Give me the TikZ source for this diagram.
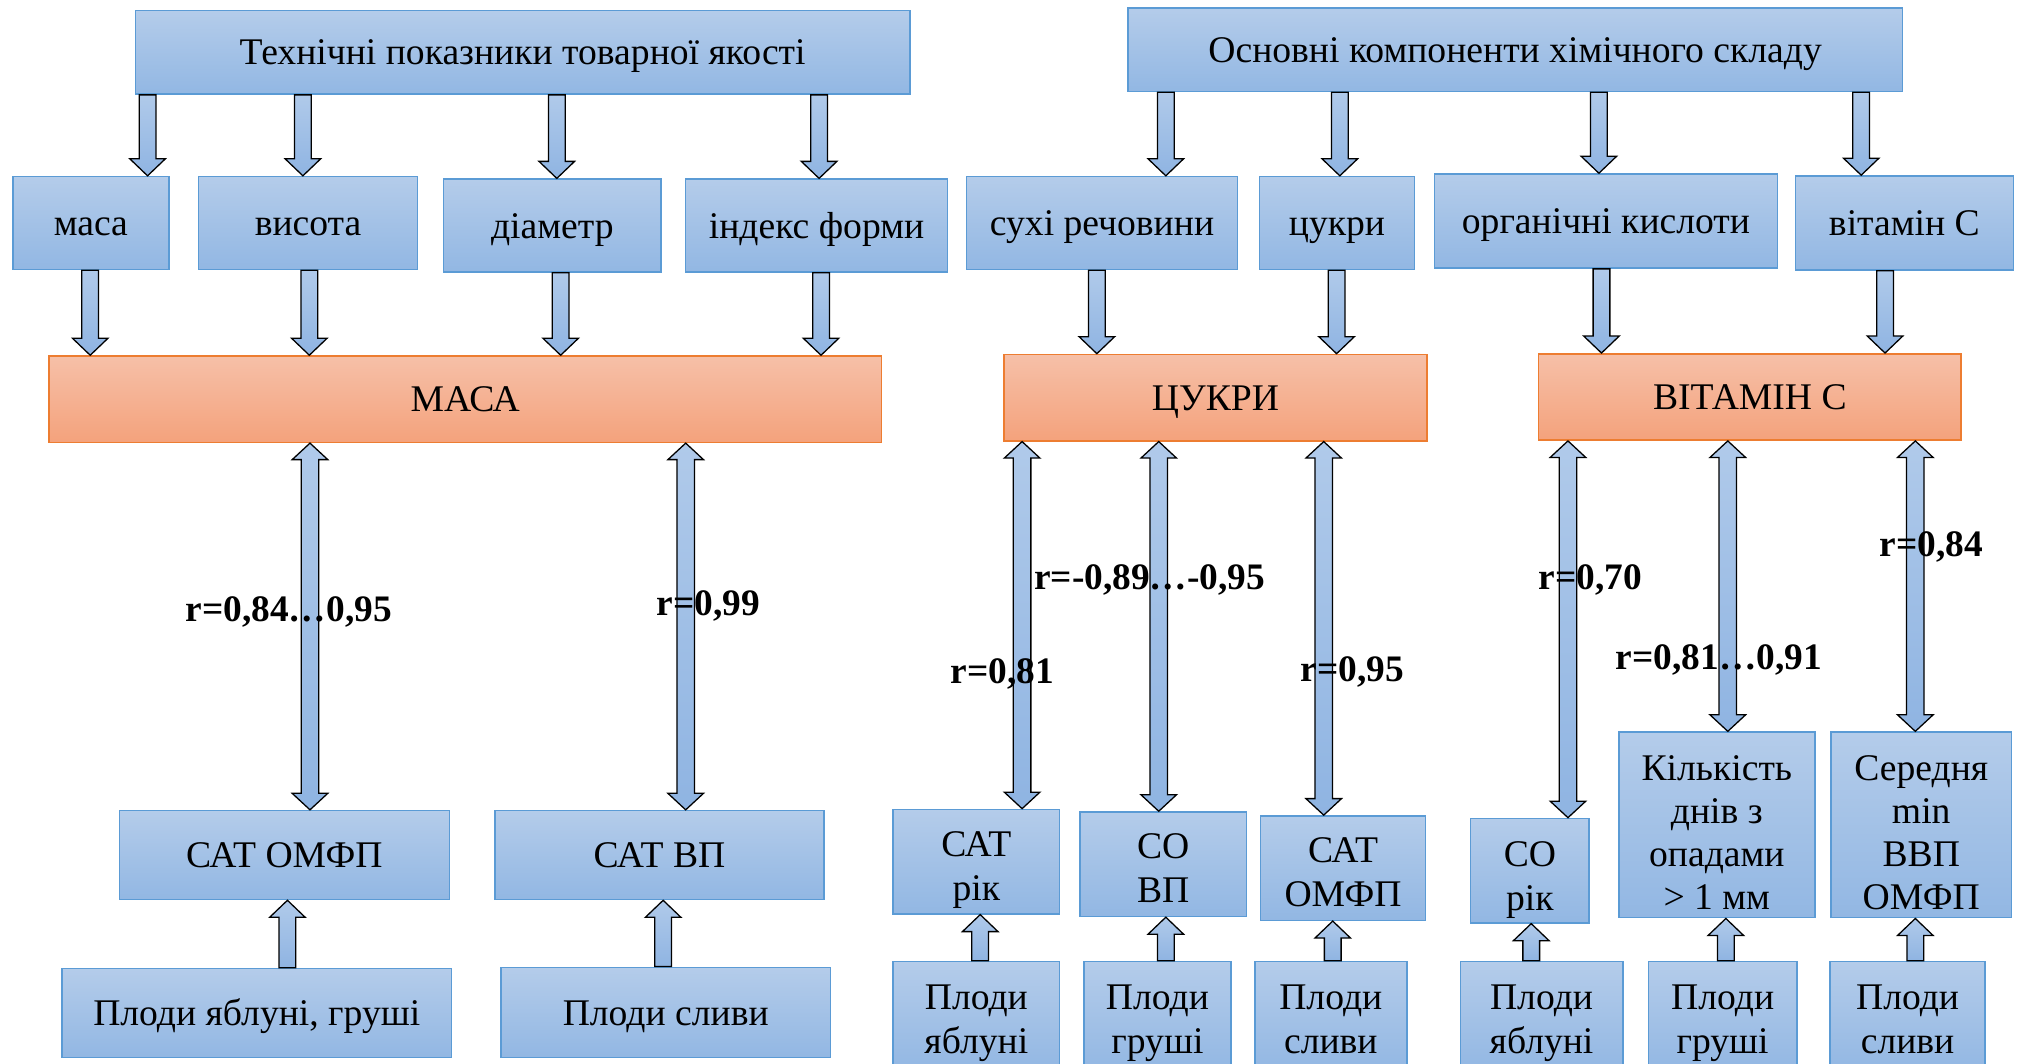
\documentclass[tikz,border=0pt]{standalone}
\usepackage{fontspec}
\setmainfont{Liberation Serif}
\usetikzlibrary{calc}
\definecolor{bxtop}{RGB}{180,204,234}
\definecolor{bxbot}{RGB}{146,183,227}
\definecolor{bxline}{RGB}{91,155,213}
\definecolor{ortop}{RGB}{246,192,168}
\definecolor{orbot}{RGB}{244,162,124}
\definecolor{orline}{RGB}{237,125,49}
\definecolor{artop}{RGB}{176,202,234}
\definecolor{arbot}{RGB}{143,180,226}
\newcommand\wstrut{\rule[-0.216em]{0pt}{1.107em}}
\newcommand\topx[1]{\rule{0pt}{\dimexpr 0.891em+#1\relax}}
\tikzset{
 bbox/.style={draw=bxline, line width=0.6pt, top color=bxtop, bottom color=bxbot, align=center, inner sep=0pt,
   font=\fontsize{14.6}{17}\selectfont, execute at begin node=\wstrut, execute at end node=\wstrut},
 obox/.style={bbox, draw=orline, top color=ortop, bottom color=orbot},
 rlabel/.style={font=\fontsize{14.5}{17}\selectfont\bfseries, inner sep=0pt},
 sarrow/.style={draw=black, line width=0.5pt, top color=artop, bottom color=arbot,
   to path={let \p1=(\tikztostart), \p2=(\tikztotarget), \n1={ifthenelse(\y2>\y1,1,-1)} in
     ({\x1-3.25pt},\y1) -- ({\x1-3.25pt},{\y2-(\n1)*6.6pt}) -- ({\x1-6.9pt},{\y2-(\n1)*6.6pt}) -- (\x1,\y2)
     -- ({\x1+6.9pt},{\y2-(\n1)*6.6pt}) -- ({\x1+3.25pt},{\y2-(\n1)*6.6pt}) -- ({\x1+3.25pt},\y1) -- cycle}},
 darrow/.style={draw=black, line width=0.5pt, top color=artop, bottom color=arbot,
   to path={let \p1=(\tikztostart), \p2=(\tikztotarget), \n1={ifthenelse(\y2>\y1,1,-1)} in
     (\x1,\y1) -- ({\x1+6.9pt},{\y1+(\n1)*6.4pt}) -- ({\x1+3.4pt},{\y1+(\n1)*6.4pt}) -- ({\x1+3.4pt},{\y2-(\n1)*6.4pt})
     -- ({\x1+6.9pt},{\y2-(\n1)*6.4pt}) -- (\x1,\y2) -- ({\x1-6.9pt},{\y2-(\n1)*6.4pt}) -- ({\x1-3.4pt},{\y2-(\n1)*6.4pt})
     -- ({\x1-3.4pt},{\y1+(\n1)*6.4pt}) -- ({\x1-6.9pt},{\y1+(\n1)*6.4pt}) -- cycle}}
}
\begin{document}
\begin{tikzpicture}[x=0.5pt,y=-0.5pt]
\useasboundingbox (0,0) rectangle (1568,825);
\clip (0,0) rectangle (1568,825);
% top boxes
\node[bbox, minimum width=300.5pt, minimum height=32.5pt] (t1) at (405.5,40.5) {Технічні показники товарної якості};
\node[bbox, minimum width=300.5pt, minimum height=32.5pt] (t2) at (1175.5,38.5) {Основні компоненти хімічного складу};
% row 2
\node[bbox, minimum width=60.5pt, minimum height=36pt] (a1) at (70.5,173) {маса};
\node[bbox, minimum width=85pt, minimum height=36pt] (a2) at (239,173) {висота};
\node[bbox, minimum width=84.5pt, minimum height=36pt] (a3) at (428.5,175) {діаметр};
\node[bbox, minimum width=101.5pt, minimum height=36pt] (a4) at (633.5,175) {індекс форми};
\node[bbox, minimum width=105pt, minimum height=36pt] (a5) at (855,173) {сухі речовини};
\node[bbox, minimum width=60.3pt, minimum height=36pt] (a6) at (1037.3,173) {цукри};
\node[bbox, minimum width=133pt, minimum height=36.5pt] (a7) at (1246,171.5) {органічні кислоти};
\node[bbox, minimum width=84.5pt, minimum height=36.5pt] (a8) at (1477.5,173) {вітамін С};
% orange
\node[obox, minimum width=322.9pt, minimum height=33.5pt] (o1) at (361,309.7) {МАСА};
\node[obox, minimum width=164pt, minimum height=33.5pt] (o2) at (943,308.5) {ЦУКРИ};
\node[obox, minimum width=164pt, minimum height=33.5pt] (o3) at (1357.6,308) {ВІТАМІН С};
% row 4
\node[bbox, minimum width=128pt, minimum height=34.5pt] (b1) at (220.6,663.4) {САТ ОМФП};
\node[bbox, minimum width=127.5pt, minimum height=34.5pt] (b2) at (511.6,663.4) {САТ ВП};
\node[bbox, minimum width=64.5pt, minimum height=40.5pt] (b3) at (757.5,668.5) {\topx{3pt}САТ\\рік};
\node[bbox, minimum width=64.5pt, minimum height=40.5pt] (b4) at (902.5,670.5) {\topx{3pt}СО\\ВП};
\node[bbox, minimum width=64pt, minimum height=40.5pt] (b5) at (1042,673.5) {\topx{3pt}САТ\\ОМФП};
\node[bbox, minimum width=46pt, minimum height=40.5pt] (b6) at (1187,675.5) {\topx{3.75pt}СО\\рік};
\node[bbox, minimum width=76pt, minimum height=72pt, font=\fontsize{14.6}{16.7}\selectfont] (b7) at (1332,640) {\topx{5.5pt}Кількість\\днів з\\опадами\\> 1 мм};
\node[bbox, minimum width=70pt, minimum height=72pt, font=\fontsize{14.6}{16.7}\selectfont] (b8) at (1490.6,640) {\topx{5.5pt}Середня\\min\\ВВП\\ОМФП};
% row 5
\node[bbox, minimum width=151pt, minimum height=34.5pt] (c1) at (199.2,785.9) {Плоди яблуні, груші};
\node[bbox, minimum width=128pt, minimum height=35pt] (c2) at (516.5,785.5) {Плоди сливи};
\node[bbox, minimum width=64.5pt, minimum height=43pt] (d1) at (757.5,789) {\topx{1.5pt}Плоди\\яблуні};
\node[bbox, minimum width=57pt, minimum height=43pt] (d2) at (898,789) {\topx{1.5pt}Плоди\\груші};
\node[bbox, minimum width=59pt, minimum height=43pt] (d3) at (1032.5,789) {\topx{1.5pt}Плоди\\сливи};
\node[bbox, minimum width=63pt, minimum height=43pt] (d4) at (1196,789) {\topx{1.5pt}Плоди\\яблуні};
\node[bbox, minimum width=57.5pt, minimum height=43pt] (d5) at (1336.5,789) {\topx{1.5pt}Плоди\\груші};
\node[bbox, minimum width=60pt, minimum height=43pt] (d6) at (1480,789) {\topx{1.5pt}Плоди\\сливи};
% arrows top -> row 2
\draw[sarrow] (t1.south -| 114.5,0) to (a1.north -| 114.5,0);
\draw[sarrow] (t1.south -| 235,0) to (a2.north -| 235,0);
\draw[sarrow] (t1.south -| 432,0) to (a3.north -| 432,0);
\draw[sarrow] (t1.south -| 635.5,0) to (a4.north -| 635.5,0);
\draw[sarrow] (t2.south -| 904.5,0) to (a5.north -| 904.5,0);
\draw[sarrow] (t2.south -| 1039.5,0) to (a6.north -| 1039.5,0);
\draw[sarrow] (t2.south -| 1240.5,0) to (a7.north -| 1240.5,0);
\draw[sarrow] (t2.south -| 1444,0) to (a8.north -| 1444,0);
% row 2 -> orange
\draw[sarrow] (a1.south -| 70,0) to (o1.north -| 70,0);
\draw[sarrow] (a2.south -| 240,0) to (o1.north -| 240,0);
\draw[sarrow] (a3.south -| 435,0) to (o1.north -| 435,0);
\draw[sarrow] (a4.south -| 637,0) to (o1.north -| 637,0);
\draw[sarrow] (a5.south -| 851,0) to (o2.north -| 851,0);
\draw[sarrow] (a6.south -| 1037,0) to (o2.north -| 1037,0);
\draw[sarrow] (a7.south -| 1242.5,0) to (o3.north -| 1242.5,0);
\draw[sarrow] (a8.south -| 1462.5,0) to (o3.north -| 1462.5,0);
% double arrows
\draw[darrow] (o1.south -| 240.5,0) to (b1.north -| 240.5,0);
\draw[darrow] (o1.south -| 532,0) to (b2.north -| 532,0);
\draw[darrow] (o2.south -| 793,0) to (b3.north -| 793,0);
\draw[darrow] (o2.south -| 899,0) to (b4.north -| 899,0);
\draw[darrow] (o2.south -| 1027,0) to (b5.north -| 1027,0);
\draw[darrow] (o3.south -| 1216.5,0) to (b6.north -| 1216.5,0);
\draw[darrow] (o3.south -| 1340.5,0) to (b7.north -| 1340.5,0);
\draw[darrow] (o3.south -| 1486,0) to (b8.north -| 1486,0);
% small up arrows
\draw[sarrow] (c1.north -| 223,0) to (b1.south -| 223,0);
\draw[sarrow] (c2.north -| 514.5,0) to (b2.south -| 514.5,0);
\draw[sarrow] (d1.north -| 760.5,0) to (b3.south -| 760.5,0);
\draw[sarrow] (d2.north -| 904.5,0) to (b4.south -| 904.5,0);
\draw[sarrow] (d3.north -| 1034,0) to (b5.south -| 1034,0);
\draw[sarrow] (d4.north -| 1188,0) to (b6.south -| 1188,0);
\draw[sarrow] (d5.north -| 1339,0) to (b7.south -| 1339,0);
\draw[sarrow] (d6.north -| 1486,0) to (b8.south -| 1486,0);
% labels
\node[rlabel] (l1) at (224,475) {r=0,84…0,95};
\node[rlabel] (l2) at (549.7,470.4) {r=0,99};
\node[rlabel] (l3) at (777.6,522.8) {r=0,81};
\node[rlabel] (l4) at (892,449.7) {r=-0,89…-0,95};
\node[rlabel] (l5) at (1049,521.3) {r=0,95};
\node[rlabel] (l6) at (1234,449.7) {r=0,70};
\node[rlabel] (l7) at (1333.5,511.8) {r=0,81…0,91};
\node[rlabel] (l8) at (1498.6,424.3) {r=0,84};
\end{tikzpicture}
\end{document}
